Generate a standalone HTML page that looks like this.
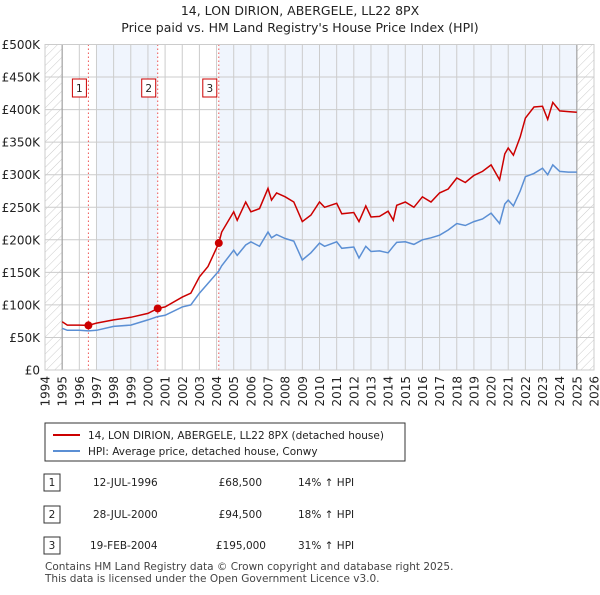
<!DOCTYPE html>
<html><head><meta charset="utf-8"><style>
body{margin:0;background:#fff;font-family:"Liberation Sans","DejaVu Sans",sans-serif;}
svg text{font-family:"DejaVu Sans","Liberation Sans",sans-serif;}
</style></head><body>
<svg id="c" width="600" height="590" xmlns="http://www.w3.org/2000/svg">
<defs><pattern id="hatch" width="6" height="6" patternUnits="userSpaceOnUse" patternTransform="rotate(45)"><line x1="0" y1="0" x2="0" y2="6" stroke="#ccc" stroke-width="1"/></pattern></defs>
<text x="300" y="15" text-anchor="middle" font-size="12.5" fill="#222">14, LON DIRION, ABERGELE, LL22 8PX</text>
<text x="300" y="32" text-anchor="middle" font-size="12.5" fill="#222">Price paid vs. HM Land Registry's House Price Index (HPI)</text>
<g id="plot"></g>
<g>
<rect x="45" y="423" width="360" height="38" fill="#fff" stroke="#333"/>
<line x1="53" y1="435" x2="80" y2="435" stroke="#cc0000" stroke-width="2"/>
<text x="88" y="439" font-size="10.5" fill="#222">14, LON DIRION, ABERGELE, LL22 8PX (detached house)</text>
<line x1="53" y1="451" x2="80" y2="451" stroke="#5b8fd4" stroke-width="2"/>
<text x="88" y="455" font-size="10.5" fill="#222">HPI: Average price, detached house, Conwy</text>
</g>
<g font-size="10.5" fill="#222">
<rect x="44" y="474" width="16" height="17" fill="#fff" stroke="#333"/><text x="52" y="486" text-anchor="middle">1</text>
<text x="93" y="486">12-JUL-1996</text><text x="262" y="486" text-anchor="end">£68,500</text><text x="298" y="486">14% ↑ HPI</text>
<rect x="44" y="506" width="16" height="17" fill="#fff" stroke="#333"/><text x="52" y="518" text-anchor="middle">2</text>
<text x="93" y="518">28-JUL-2000</text><text x="262" y="518" text-anchor="end">£94,500</text><text x="298" y="518">18% ↑ HPI</text>
<rect x="44" y="537" width="16" height="17" fill="#fff" stroke="#333"/><text x="52" y="549" text-anchor="middle">3</text>
<text x="90" y="549">19-FEB-2004</text><text x="266" y="549" text-anchor="end">£195,000</text><text x="298" y="549">31% ↑ HPI</text>
</g>
<text x="45" y="570" font-size="10.5" fill="#444">Contains HM Land Registry data © Crown copyright and database right 2025.</text>
<text x="45" y="582" font-size="10.5" fill="#444">This data is licensed under the Open Government Licence v3.0.</text>
</svg>
<script>
const years=[1995,1995.3,1996,1996.53,1997,1998,1999,2000,2000.57,2001,2002,2002.5,2003,2003.5,2004.13,2004.3,2005,2005.2,2005.7,2006,2006.5,2007,2007.2,2007.5,2008,2008.5,2009,2009.5,2010,2010.3,2011,2011.3,2012,2012.3,2012.7,2013,2013.5,2014,2014.3,2014.5,2015,2015.5,2016,2016.5,2017,2017.5,2018,2018.5,2019,2019.5,2020,2020.5,2020.8,2021,2021.3,2021.7,2022,2022.5,2023,2023.3,2023.6,2024,2024.5,2025];
const priceK=[74,69,69,68.5,72,77,81,87,94.5,97,112,118,143,159,195,212,243,230,258,243,248,279,261,272,266,258,228,238,258,250,256,240,242,228,252,235,236,244,230,253,258,250,266,258,272,278,295,288,299,305,315,292,332,341,330,358,387,404,405,385,411,398,397,396];
const hpiK=[64,61,61,60,61,67,69,77,82,84,97,100,118,133,152,160,184,176,192,197,190,212,203,208,202,198,169,180,195,190,197,187,189,172,190,182,183,180,190,196,197,193,200,203,207,215,225,222,228,232,241,225,255,261,252,275,297,302,310,300,315,305,304,304];
const sales=[[1996.53,68.5,"1"],[2000.57,94.5,"2"],[2004.13,195,"3"]];
const yTicks=[0,50,100,150,200,250,300,350,400,450,500];
const xTicks=[];for(let y=1994;y<=2026;y++)xTicks.push(y);
const X0=45,X1=594,Y0=370,Y1=44.5;
const xs=y=>X0+(y-1994)*(X1-X0)/32;
const ys=v=>Y0-v*(Y0-Y1)/500;
const NS="http://www.w3.org/2000/svg";
const g=document.getElementById('plot');
function mk(t,a,p){const e=document.createElementNS(NS,t);for(const k in a)e.setAttribute(k,a[k]);(p||g).appendChild(e);return e;}
let e;
e=mk('rect',{x:X0,y:Y1,width:X1-X0,height:Y0-Y1,fill:'#fff'});


[[1997,2000.57],[2004.13,2025]].forEach(b=>{
 e=mk('rect',{x:xs(b[0]),y:Y1,width:xs(b[1])-xs(b[0]),height:Y0-Y1,fill:'#f0f5fd'});
 
 
});
[[1994,1995],[2025,2026]].forEach(b=>{
 e=mk('rect',{x:xs(b[0]),y:Y1,width:xs(b[1])-xs(b[0]),height:Y0-Y1,fill:'url(#hatch)'});
 
 
});
yTicks.forEach(v=>{
 e=mk('line',{x1:X0,x2:X1,y1:ys(v),y2:ys(v),stroke:'#ccc','stroke-width':1});
 
 
 e=mk('text',{x:X0-5,y:ys(v)+4.5,'text-anchor':'end','font-size':'12',fill:'#222'});
 e.textContent=v===0?'£0':'£'+v+'K';
 
 
});
xTicks.forEach(y=>{
 e=mk('line',{x1:xs(y),x2:xs(y),y1:Y1,y2:Y0,stroke:'#ccc','stroke-width':1});
 
 
 e=mk('text',{x:0,y:0,'text-anchor':'end','font-size':'12',fill:'#222',transform:`translate(${xs(y)+4.5},${Y0+6}) rotate(-90)`});
 e.textContent=y;
 
 
});
[1995,2025].forEach(y=>{
 e=mk('line',{x1:xs(y),x2:xs(y),y1:Y1,y2:Y0,stroke:'#999','stroke-width':1});
 
 
});
sales.forEach(s=>{
 e=mk('line',{x1:xs(s[0]),x2:xs(s[0]),y1:Y1,y2:Y0,stroke:'#ee5555','stroke-width':1,'stroke-dasharray':'1.5,2.5'});
 
 
});
const pts=a=>a.map((v,i)=>xs(years[i]).toFixed(1)+','+ys(v).toFixed(1)).join(' ');
e=mk('polyline',{points:pts(hpiK),fill:'none',stroke:'#5b8fd4','stroke-width':1.5});


e=mk('polyline',{points:pts(priceK),fill:'none',stroke:'#cc0000','stroke-width':1.5});


sales.forEach(s=>{
 e=mk('circle',{cx:xs(s[0]),cy:ys(s[1]),r:4,fill:'#cc0000'});
 
 
 const bx=xs(s[0])-16;
 e=mk('rect',{x:bx,y:79,width:14,height:18,fill:'#fff',stroke:'#cc0000'});
 
 
 e=mk('text',{x:bx+7,y:92,'text-anchor':'middle','font-size':'10.5',fill:'#222'});
 e.textContent=s[2];
 
 
});
e=mk('rect',{x:X0,y:Y1,width:X1-X0,height:Y0-Y1,fill:'none',stroke:'#ccc'});


</script>
</body></html>
